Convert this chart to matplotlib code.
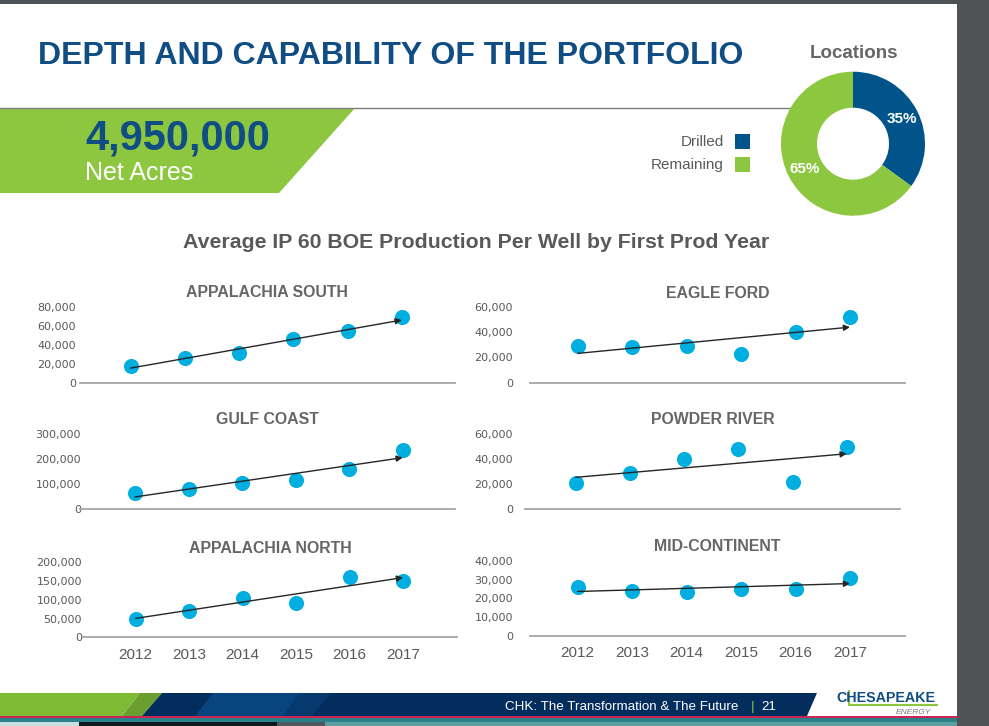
import matplotlib
matplotlib.use('Agg')
import matplotlib.pyplot as plt
import numpy as np
from matplotlib.patches import Polygon, Rectangle
from matplotlib.ticker import FuncFormatter

plt.rcParams['font.family'] = ['Liberation Sans', 'DejaVu Sans']

# ---- data ----
years = ['2012', '2013', '2014', '2015', '2016', '2017']

appalachia_south = [18000, 26000, 31000, 46000, 54000, 69000]
eagle_ford = [29000, 28000, 29000, 23000, 40000, 52000]
gulf_coast = [66000, 82000, 106000, 117000, 160000, 237000]
powder_river = [21000, 29000, 40000, 48000, 22000, 50000]
appalachia_north = [50000, 71000, 105000, 91000, 161000, 151000]
mid_continent = [26000, 24000, 23500, 25000, 25000, 31000]

panel_names = ['APPALACHIA SOUTH', 'EAGLE FORD', 'GULF COAST',
               'POWDER RIVER', 'APPALACHIA NORTH', 'MID-CONTINENT']
panel_values = [appalachia_south, eagle_ford, gulf_coast,
                powder_river, appalachia_north, mid_continent]
y_max = [80000, 60000, 300000, 60000, 200000, 40000]
y_step = [20000, 20000, 100000, 20000, 50000, 10000]

location_labels = ['Drilled', 'Remaining']
location_share = [35, 65]
net_acres = '4,950,000'

# ---- layout (pixels) ----
W, H = 989, 726
# left, top, right, bottom of each plot area, and x of first / last point
boxes = [(80, 306.7, 455, 382.7), (530, 306.7, 905, 382.7),
         (80, 434.3, 455, 509.3), (525, 434.3, 900, 509.3),
         (83, 562.3, 457, 637.3), (530, 560.7, 905, 636)]
first_last = [(130.7, 401.7), (577.7, 850), (135, 402.7),
              (575.7, 846.7), (135.7, 403), (577.7, 850)]
title_y = [292.7, 293.3, 420, 420, 548.3, 546.7]
label_right = [76, 513, 81, 513, 82, 513]

BLUE = '#0f4d84'
DONUT_BLUE = '#00548a'
GREEN = '#8dc63f'
CYAN = '#00aee0'
GRAY_TXT = '#595959'
TITLE_GRAY = '#666666'
DARK = '#505356'


def box(l, t, r, b):
    return [l / W, 1 - b / H, (r - l) / W, (b - t) / H]


fig = plt.figure(figsize=(W / 100, H / 100), dpi=100)

bg = fig.add_axes([0, 0, 1, 1], zorder=0)
bg.set_xlim(0, W)
bg.set_ylim(H, 0)
bg.axis('off')

# slide frame
bg.add_patch(Rectangle((957, 0), 32, H, color=DARK, lw=0))
bg.add_patch(Rectangle((0, 0), 957, 3.5, color=DARK, lw=0))

# header
bg.text(38, 56, 'DEPTH AND CAPABILITY OF THE PORTFOLIO', color=BLUE,
        fontsize=23, fontweight='bold', va='center', ha='left')
bg.plot([0, 790], [108, 108], color='#7f7f7f', lw=1.0)
bg.add_patch(Polygon([(0, 108), (355, 108), (279, 193), (0, 193)],
                     closed=True, color=GREEN, lw=0))
bg.text(85, 138, net_acres, color=BLUE, fontsize=30, fontweight='bold',
        va='center', ha='left')
bg.text(85, 173, 'Net Acres', color='white', fontsize=18,
        va='center', ha='left')

# legend for donut
for lab, col, yc in zip(location_labels, [DONUT_BLUE, GREEN], [141.5, 164.5]):
    bg.add_patch(Rectangle((735, yc - 7.5), 15, 15, color=col, lw=0))
    bg.text(724, yc, lab, color=GRAY_TXT, fontsize=11, ha='right', va='center')

bg.text(854, 53, 'Locations', color=TITLE_GRAY, fontsize=13.5,
        fontweight='bold', ha='center', va='center')

dax = fig.add_axes(box(853 - 72, 143.7 - 72, 853 + 72, 143.7 + 72), zorder=2)
wedges, texts, autotexts = dax.pie(
    location_share, colors=[DONUT_BLUE, GREEN], startangle=90,
    counterclock=False, radius=1, autopct='%d%%', pctdistance=0.76,
    wedgeprops=dict(width=0.5, edgecolor='none'))
for t in autotexts:
    t.set_color('white')
    t.set_fontsize(11)
    t.set_fontweight('bold')
dax.set_xlim(-1, 1)
dax.set_ylim(-1, 1)
dax.set_aspect('equal')

bg.text(476.5, 243, 'Average IP 60 BOE Production Per Well by First Prod Year',
        color=GRAY_TXT, fontsize=15.3, fontweight='bold',
        ha='center', va='center')

# ---- panels ----
x = np.arange(len(years))
fmt = FuncFormatter(lambda v, p: '{:,.0f}'.format(v))
for i, vals in enumerate(panel_values):
    l, t, r, b = boxes[i]
    p0, p5 = first_last[i]
    s = (p5 - p0) / 5
    ax = fig.add_axes(box(l, t, r, b), zorder=1)
    ax.patch.set_alpha(0)
    ax.set_xlim(-(p0 - l) / s, 5 + (r - p5) / s)
    ax.set_ylim(0, y_max[i])
    for side in ['top', 'right', 'left']:
        ax.spines[side].set_visible(False)
    ax.spines['bottom'].set_color('#a6a6a6')
    ax.spines['bottom'].set_linewidth(1.3)

    ax.scatter(x, vals, s=118, color=CYAN, lw=0, zorder=3, clip_on=False)
    coef = np.polyfit(x, vals, 1)
    ax.annotate('', xy=(x[-1], np.polyval(coef, x[-1])),
                xytext=(x[0], np.polyval(coef, x[0])),
                arrowprops=dict(arrowstyle='-|>', color='#262626', lw=1.0,
                                mutation_scale=9, shrinkA=0, shrinkB=0),
                zorder=4, annotation_clip=False)

    ax.set_yticks(np.arange(0, y_max[i] + 1, y_step[i]))
    ax.yaxis.set_major_formatter(fmt)
    ax.tick_params(axis='y', length=0, labelsize=8, labelcolor=GRAY_TXT,
                   pad=(l - label_right[i]) / 1.389)
    for lab in ax.get_yticklabels():
        lab.set_fontfamily('DejaVu Sans')
    ax.set_xticks(x)
    if i >= 4:
        ax.set_xticklabels(years)
        ax.tick_params(axis='x', length=0, labelsize=11,
                       labelcolor=GRAY_TXT, pad=7.5)
    else:
        ax.set_xticklabels([])
        ax.tick_params(axis='x', length=0)

    bg.text((l + r) / 2, title_y[i], panel_names[i], color=TITLE_GRAY,
            fontsize=11.4, fontweight='bold', ha='center', va='center')

# ---- footer ----
bg.add_patch(Rectangle((0, 716), 957, 10, color='#2b8189', lw=0))
bg.add_patch(Rectangle((0, 722), 79, 4, color='#c9dfe0', lw=0))
bg.add_patch(Rectangle((79, 722), 198, 4, color='#0e1a1e', lw=0))
bg.add_patch(Rectangle((277, 722), 48, 4, color='#4a5a5e', lw=0))
bg.add_patch(Rectangle((325, 722), 632, 4, color='#5c9ea2', lw=0))
bg.add_patch(Polygon([(0, 693), (140, 693), (122, 716), (0, 716)],
                     closed=True, color='#7dbb35', lw=0))
bg.add_patch(Polygon([(140, 693), (162, 693), (142, 716), (122, 716)],
                     closed=True, color='#6a9f2f', lw=0))
bg.add_patch(Polygon([(162, 693), (817, 693), (807, 716), (142, 716)],
                     closed=True, color='#032d5c', lw=0))
bg.add_patch(Polygon([(213, 693), (330, 693), (312, 716), (195, 716)],
                     closed=True, color='#0a4a86', lw=0, alpha=0.85))
bg.add_patch(Polygon([(300, 693), (330, 693), (312, 716), (282, 716)],
                     closed=True, color='#063a6e', lw=0))
bg.plot([0, 957], [716.5, 716.5], color='#e0194b', lw=1.3)
bg.text(505, 707, 'CHK: The Transformation & The Future', color='white',
        fontsize=9.6, ha='left', va='center')
bg.text(753, 707, '|', color=GREEN, fontsize=9.6, ha='center', va='center')
bg.text(769, 707, '21', color='white', fontsize=9.6, ha='center', va='center')
bg.plot([849, 849, 937], [691, 705, 705], color=GREEN, lw=1.5)
bg.text(886, 698, 'CHESAPEAKE', color=BLUE, fontsize=10.3,
        fontweight='bold', ha='center', va='center')
bg.text(913, 712, 'ENERGY', color='#7a7a7a', fontsize=6,
        fontstyle='italic', ha='center', va='center')

fig.savefig('out.png', dpi=100)
